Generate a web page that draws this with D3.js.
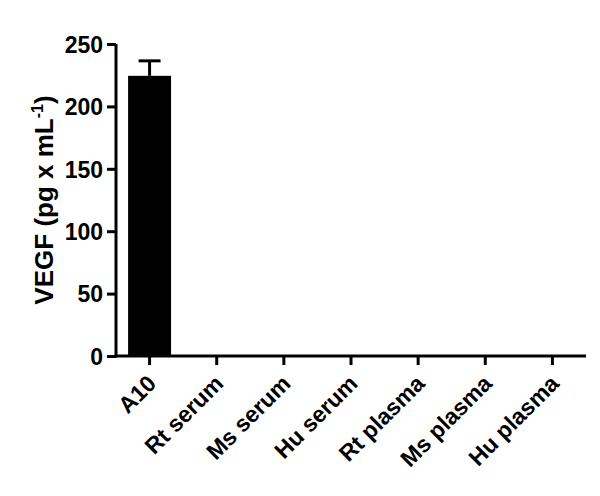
<!DOCTYPE html>
<html><head><meta charset="utf-8">
<script src="https://cdn.jsdelivr.net/npm/d3@7"></script>
<style>
body{margin:0;background:#fff;}
text{font-family:"Liberation Sans",Arial,sans-serif;font-weight:bold;}
</style></head>
<body><svg id="c" width="600" height="496"></svg>
<script>
const categories = ["A10","Rt serum","Ms serum","Hu serum","Rt plasma","Ms plasma","Hu plasma"];
const means = [224.5, 0, 0, 0, 0, 0, 0];
const errors = [12, 0, 0, 0, 0, 0, 0];
const yTicks = [0, 50, 100, 150, 200, 250];

const svg = d3.select("#c");
const m = {left:116, right:14, top:44, bottom:140};
const x = d3.scaleBand().domain(categories).range([m.left, 586]).paddingInner(0.36).paddingOuter(0.18);
const y = d3.scaleLinear().domain([0,250]).range([356, 44]);

// bars
svg.selectAll("rect.bar").data(categories).enter().append("rect")
  .attr("x", d => x(d)).attr("width", x.bandwidth())
  .attr("y", (d,i) => y(means[i])).attr("height", (d,i) => y(0) - y(means[i]))
  .attr("fill", "#000");

// error bars
const eg = svg.append("g");
categories.forEach((c,i) => {
  if (errors[i] <= 0) return;
  const cx = x(c) + x.bandwidth()/2;
  eg.append("line").attr("x1",cx).attr("x2",cx).attr("y1",y(means[i])).attr("y2",y(means[i]+errors[i]))
    .attr("stroke","#000").attr("stroke-width",3);
  eg.append("line").attr("x1",cx-11).attr("x2",cx+11).attr("y1",y(means[i]+errors[i])).attr("y2",y(means[i]+errors[i]))
    .attr("stroke","#000").attr("stroke-width",3);
});

// y axis
const ya = svg.append("g").attr("transform",`translate(${m.left},0)`)
  .call(d3.axisLeft(y).tickValues(yTicks).tickSize(9).tickPadding(4).tickSizeOuter(0));
ya.select(".domain").attr("stroke-width",3).attr("d", `M0,${y(0)+1.5}V${y(250)}`);
ya.selectAll(".tick line").attr("stroke-width",3);
ya.selectAll(".tick text").attr("font-size","23px").attr("fill","#000").attr("dy","0.36em");

// x axis
const xa = svg.append("g").attr("transform",`translate(0,${y(0)})`)
  .call(d3.axisBottom(x).tickSize(9).tickSizeOuter(0));
xa.select(".domain").attr("stroke-width",3).attr("d", `M${m.left-1.5},0H586`);
xa.selectAll(".tick line").attr("stroke-width",3);
xa.selectAll(".tick text").attr("font-size","23px").attr("fill","#000")
  .attr("text-anchor","end").attr("x",0).attr("y",0).attr("dy","0").attr("dx","0")
  .attr("transform","translate(8,29) rotate(-45)");

// y title
svg.append("text").attr("transform","translate(53,200) rotate(-90)")
  .attr("text-anchor","middle").attr("font-size","26px").attr("fill","#000")
  .html('VEGF (pg x mL<tspan dy="-10" font-size="16px">-1</tspan><tspan dy="10">)</tspan>');
</script></body></html>
